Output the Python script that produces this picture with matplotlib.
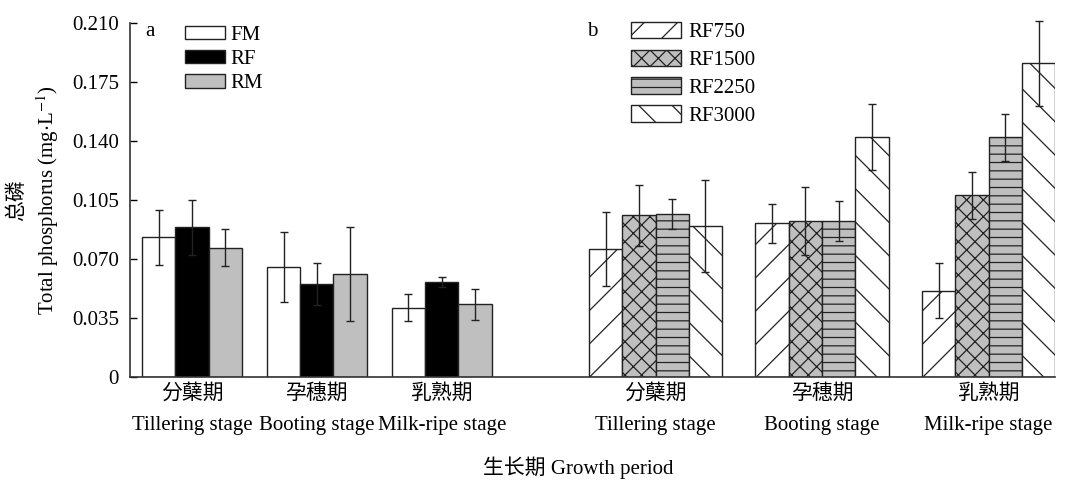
import numpy as np
import matplotlib.pyplot as plt

plt.rcParams['font.family'] = ['Liberation Serif', 'Noto Sans CJK SC']
plt.rcParams['mathtext.fontset'] = 'stix'
plt.rcParams['hatch.linewidth'] = 0.9
plt.rcParams['font.size'] = 15

stages_cn = ['分蘖期', '孕穗期', '乳熟期']
stages_en = ['Tillering stage', 'Booting stage', 'Milk-ripe stage']

# a: FM / RF / RM
a_labels = ['FM', 'RF', 'RM']
fm_mean = [0.0828, 0.0650, 0.0411]
fm_err = [0.0163, 0.0208, 0.0081]
rf_mean = [0.0888, 0.0552, 0.0563]
rf_err = [0.0162, 0.0122, 0.0028]
rm_mean = [0.0767, 0.0611, 0.0431]
rm_err = [0.0109, 0.0277, 0.0093]

# b: RF750 / RF1500 / RF2250 / RF3000
b_labels = ['RF750', 'RF1500', 'RF2250', 'RF3000']
rf750_mean = [0.0757, 0.0911, 0.0512]
rf750_err = [0.0220, 0.0115, 0.0162]
rf1500_mean = [0.0959, 0.0927, 0.1078]
rf1500_err = [0.0180, 0.0202, 0.0139]
rf2250_mean = [0.0967, 0.0927, 0.1421]
rf2250_err = [0.0089, 0.0119, 0.0137]
rf3000_mean = [0.0895, 0.1421, 0.1860]
rf3000_err = [0.0273, 0.0196, 0.0250]

ytick_vals = [0, 0.035, 0.070, 0.105, 0.140, 0.175, 0.210]
ytick_labels = ['0', '0.035', '0.070', '0.105', '0.140', '0.175', '0.210']

fig = plt.figure(figsize=(10.68, 4.87), dpi=100)
ax = fig.add_axes([0.1217, 0.2259, 0.8663, 0.7269])

w = 1.0
ca = 1.86 + 3.75 * np.arange(3)
cb = 15.78 + 5.0 * np.arange(3)

ekw = dict(ecolor='#222222', elinewidth=1.0, capsize=2.8, capthick=1.0)

a_series = [(fm_mean, fm_err, 'white', ''),
            (rf_mean, rf_err, 'black', ''),
            (rm_mean, rm_err, '#bfbfbf', '')]
a_bars = []
for i, (m, e, fc, h) in enumerate(a_series):
    b = ax.bar(ca + (i - 1) * w, m, w, yerr=e, color=fc, edgecolor='#222222',
               linewidth=1.0, hatch=h, error_kw=ekw, label=a_labels[i])
    a_bars.append(b)

b_series = [(rf750_mean, rf750_err, 'white', '/'),
            (rf1500_mean, rf1500_err, '#bfbfbf', 'xx'),
            (rf2250_mean, rf2250_err, '#bfbfbf', '--'),
            (rf3000_mean, rf3000_err, 'white', '\\')]
b_bars = []
for i, (m, e, fc, h) in enumerate(b_series):
    b = ax.bar(cb + (i - 1.5) * w, m, w, yerr=e, color=fc, edgecolor='#222222',
               linewidth=1.0, hatch=h, error_kw=ekw, label=b_labels[i])
    for line in b.errorbar.lines[2]:
        line.set_clip_on(False)
    for cap in b.errorbar.lines[1]:
        cap.set_clip_on(False)
    b_bars.append(b)

ax.set_xlim(0, 27.78)
ax.set_ylim(0, 0.21)
ax.set_yticks(ytick_vals)
ax.set_yticklabels(ytick_labels)
ax.tick_params(axis='y', direction='in', length=5, width=1.0, pad=8, labelsize=15)

xt = list(ca) + list(cb)
xl = [f'{c}\n{e}' for c, e in zip(stages_cn, stages_en)] * 2
ax.set_xticks(xt)
ax.set_xticklabels(xl, linespacing=1.85)
ax.tick_params(axis='x', length=0, pad=5, labelsize=15)

for s in ['top', 'right']:
    ax.spines[s].set_visible(False)
for s in ['left', 'bottom']:
    ax.spines[s].set_linewidth(1.2)
    ax.spines[s].set_color('#333333')

ax.set_ylabel('总磷\nTotal phosphorus (mg$\\cdot$L$^{-1}$)', fontsize=15,
              linespacing=1.35, labelpad=8)
ax.set_xlabel('生长期 Growth period', fontsize=15)
ax.xaxis.set_label_coords(0.484, -0.225)

ax.text(0.016, 0.977, 'a', transform=ax.transAxes, ha='left', va='center', fontsize=15)
ax.text(0.494, 0.977, 'b', transform=ax.transAxes, ha='left', va='center', fontsize=15)

leg_a = ax.legend(handles=a_bars, labels=a_labels, loc='upper left',
                  bbox_to_anchor=(0.0595, 0.992), frameon=False, borderpad=0,
                  borderaxespad=0, handlelength=1.92, handleheight=0.6,
                  handletextpad=0.25, labelspacing=0.25, fontsize=15)
ax.add_artist(leg_a)
ax.legend(handles=b_bars, labels=b_labels, loc='upper left',
          bbox_to_anchor=(0.5416, 1.004), frameon=False, borderpad=0,
          borderaxespad=0, handlelength=2.4, handleheight=0.87,
          handletextpad=0.35, labelspacing=0.35, fontsize=15)

fig.savefig('out.png', dpi=100)
